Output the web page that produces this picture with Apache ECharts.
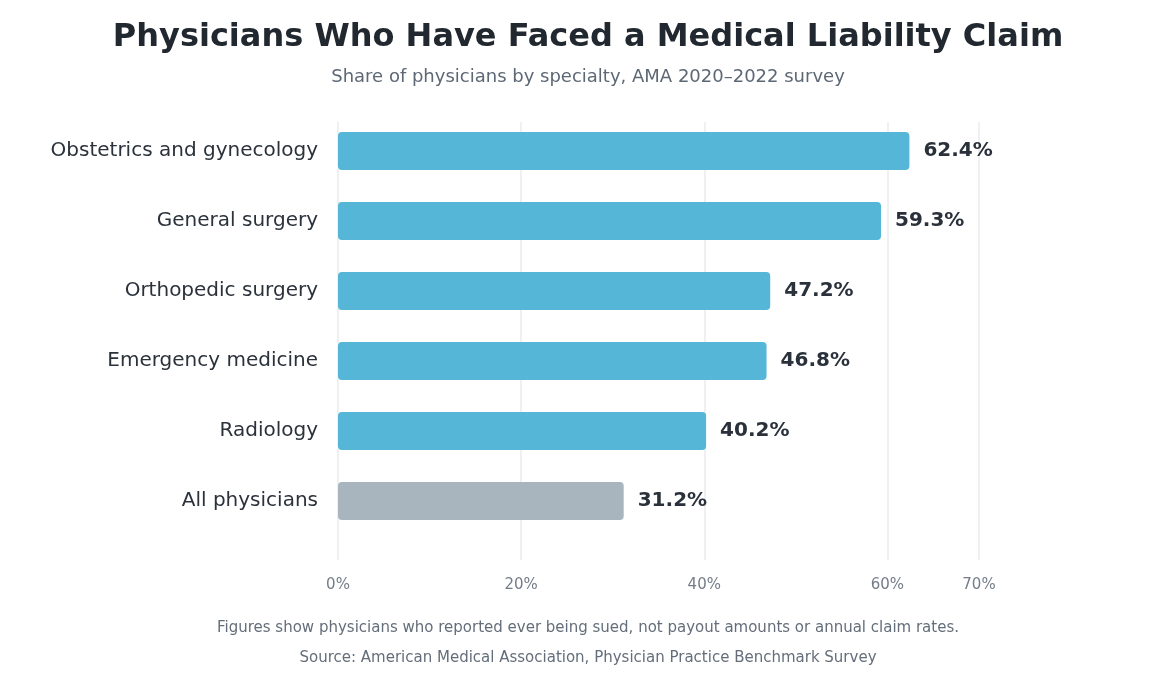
<!DOCTYPE html>
<html>
<head>
<meta charset="utf-8">
<script src="https://cdn.jsdelivr.net/npm/echarts@6/dist/echarts.min.js"></script>
<style>
  html, body { margin: 0; padding: 0; background: #fff; }
  #chart { width: 1168px; height: 685px; }
</style>
</head>
<body>
<div id="chart"></div>
<script>
// specialties, top to bottom
const specialties = [
    'Obstetrics and gynecology',
    'General surgery',
    'Orthopedic surgery',
    'Emergency medicine',
    'Radiology',
    'All physicians'
];
const shares = [62.4, 59.3, 47.2, 46.8, 40.2, 31.2];
const xMax = 70;
const xStep = 20;

const BLUE = '#55b6d7';
const GREY = '#a8b5be';
const MID = 583; // horizontal anchor of the headings

const chart = echarts.init(document.getElementById('chart'));

const option = {
    backgroundColor: '#fff',
    textStyle: { fontFamily: 'DejaVu Sans' },
    title: [
        {
            text: 'Physicians Who Have Faced a Medical Liability Claim',
            left: MID,
            textAlign: 'center',
            top: 17,
            textStyle: { fontSize: 32, fontWeight: 'bold', color: '#22282f', fontFamily: 'DejaVu Sans' }
        },
        {
            text: 'Share of physicians by specialty, AMA 2020\u20132022 survey',
            left: MID,
            textAlign: 'center',
            top: 63,
            textStyle: { fontSize: 18, fontWeight: 'normal', color: '#5d6875', fontFamily: 'DejaVu Sans' }
        },
        {
            text: 'Figures show physicians who reported ever being sued, not payout amounts or annual claim rates.',
            left: MID,
            textAlign: 'center',
            top: 616,
            textStyle: { fontSize: 15, fontWeight: 'normal', color: '#646e7a', fontFamily: 'DejaVu Sans' }
        },
        {
            text: 'Source: American Medical Association, Physician Practice Benchmark Survey',
            left: MID,
            textAlign: 'center',
            top: 646,
            textStyle: { fontSize: 15, fontWeight: 'normal', color: '#646e7a', fontFamily: 'DejaVu Sans' }
        }
    ],
    grid: [
        // bars
        { left: 338, width: 641, top: 116, height: 420, containLabel: false },
        // grid lines and tick labels
        { left: 338, width: 641, top: 122, height: 438, containLabel: false }
    ],
    xAxis: [
        {
            gridIndex: 0,
            type: 'value',
            min: 0,
            max: xMax,
            show: false
        },
        {
            gridIndex: 1,
            type: 'value',
            min: 0,
            max: xMax,
            interval: xStep,
            axisLine: { show: false },
            axisTick: { show: false },
            axisLabel: {
                margin: 18,
                fontSize: 15,
                color: '#747d88',
                fontFamily: 'DejaVu Sans',
                showMaxLabel: true,
                formatter: '{value}%'
            },
            splitLine: {
                show: true,
                lineStyle: { color: '#e9ebed', width: 1.5 }
            }
        }
    ],
    yAxis: [
        {
            gridIndex: 0,
            type: 'category',
            inverse: true,
            data: specialties,
            axisLine: { show: false },
            axisTick: { show: false },
            splitLine: { show: false },
            axisLabel: {
                margin: 20,
                fontSize: 20,
                color: '#2b323b',
                fontFamily: 'DejaVu Sans'
            }
        },
        {
            gridIndex: 1,
            type: 'value',
            min: 0,
            max: 1,
            show: false
        }
    ],
    series: [
        {
            type: 'bar',
            xAxisIndex: 0,
            yAxisIndex: 0,
            barWidth: 38,
            data: shares.map((v, i) => ({
                value: v,
                itemStyle: {
                    color: specialties[i] === 'All physicians' ? GREY : BLUE,
                    borderRadius: 4
                }
            })),
            label: {
                show: true,
                position: 'right',
                distance: 14,
                fontSize: 20,
                fontWeight: 'bold',
                color: '#2a313b',
                fontFamily: 'DejaVu Sans',
                formatter: p => p.value.toFixed(1) + '%'
            },
            silent: true
        },
        {
            type: 'line',
            xAxisIndex: 1,
            yAxisIndex: 1,
            data: [],
            silent: true
        }
    ]
};

chart.setOption(option);
</script>
</body>
</html>
